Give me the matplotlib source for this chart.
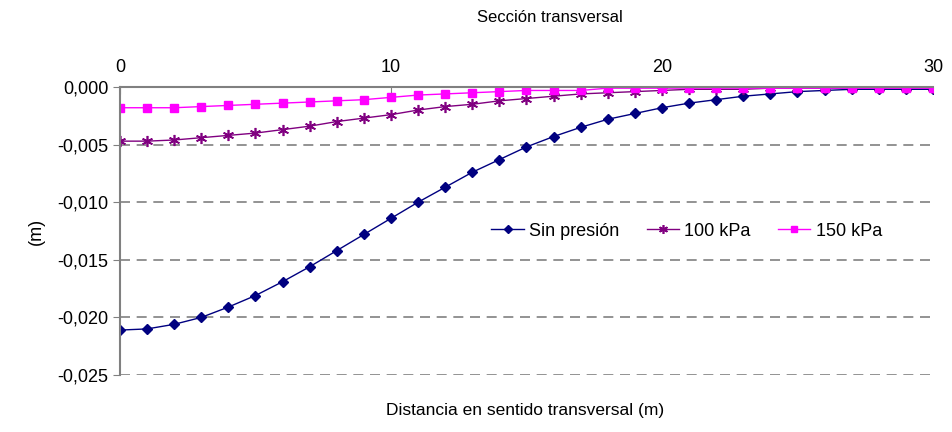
import numpy as np
import matplotlib
matplotlib.use("Agg")
import matplotlib.pyplot as plt
from matplotlib.ticker import FuncFormatter, MultipleLocator

plt.rcParams["font.family"] = ["Liberation Sans", "DejaVu Sans"]

# distance across the section (m)
distancia = list(range(0, 31))

# vertical displacement (m)
sin_presion = [-0.0211, -0.0210, -0.0206, -0.0200, -0.0191, -0.0181, -0.0169, -0.0156,
               -0.0142, -0.0128, -0.0114, -0.0100, -0.0087, -0.0074, -0.0063, -0.0052,
               -0.0043, -0.0035, -0.0028, -0.0023, -0.0018, -0.0014, -0.0011, -0.0008,
               -0.0006, -0.0004, -0.0003, -0.0002, -0.0002, -0.0002, -0.0002]
kpa_100 = [-0.0047, -0.0047, -0.0046, -0.0044, -0.0042, -0.0040, -0.0037, -0.0034,
           -0.0030, -0.0027, -0.0024, -0.0020, -0.0017, -0.0015, -0.0012, -0.0010,
           -0.0008, -0.0006, -0.0005, -0.0004, -0.0003, -0.0002, -0.0002, -0.0002,
           -0.0001, -0.0001, -0.0001, -0.0001, -0.0001, -0.0001, -0.0001]
kpa_150 = [-0.0018, -0.0018, -0.0018, -0.0017, -0.0016, -0.0015, -0.0014, -0.0013,
           -0.0012, -0.0011, -0.0009, -0.0007, -0.0006, -0.0005, -0.0004, -0.0003,
           -0.0003, -0.0003, -0.0001, -0.0001, -0.0001, -0.0001, -0.0001, -0.0001,
           -0.0001, -0.0001, -0.0001, -0.0001, -0.0001, -0.0001, -0.0001]


def fmt_coma(v, pos):
    if abs(v) < 1e-12:
        v = 0.0
    return f"{v:.3f}".replace(".", ",")


fig = plt.figure(figsize=(9.53, 4.32), dpi=100)
ax = fig.add_axes([120 / 953, 1 - 375 / 432, 813 / 953, 288 / 432])

ax.plot(distancia, sin_presion, color="#000080", lw=1, marker="D", ms=5,
        label="Sin presión")
ax.plot(distancia, kpa_100, color="#800080", lw=1, marker=(6, 2, 0), ms=8,
        mew=1.2, label="100 kPa")
ax.plot(distancia, kpa_150, color="#FF00FF", lw=1, marker="s", ms=6,
        label="150 kPa")

ax.set_xlim(0, 30)
ax.set_ylim(-0.025, 0)
ax.xaxis.set_major_locator(MultipleLocator(10))
ax.yaxis.set_major_locator(MultipleLocator(0.005))
ax.yaxis.set_major_formatter(FuncFormatter(fmt_coma))

ax.xaxis.tick_top()
ax.tick_params(axis="x", direction="in", length=5, color="#808080", labelsize=13, pad=8)
ax.tick_params(axis="y", direction="out", length=5, color="#808080", labelsize=13)

for s in ["right", "bottom"]:
    ax.spines[s].set_visible(False)
for s in ["left", "top"]:
    ax.spines[s].set_color("#808080")
    ax.spines[s].set_linewidth(1.5)

ax.yaxis.grid(True, color="#808080", ls=(0, (6, 4)), lw=1.2)
ax.set_axisbelow(True)

ax.set_ylabel("(m)", fontsize=13, labelpad=9)
fig.text(550 / 953, 1 - 18 / 432, "Sección transversal", ha="center", va="center", fontsize=12)
fig.text(525 / 953, 1 - 411 / 432, "Distancia en sentido transversal (m)", ha="center",
         va="center", fontsize=12.5)

ax.legend(loc="center", bbox_to_anchor=(0.697, 0.5), ncol=3, frameon=False,
          fontsize=13, handlelength=1.8, columnspacing=1.5, handletextpad=0.3,
          markerscale=0.8)

fig.savefig("out.png", dpi=100)
